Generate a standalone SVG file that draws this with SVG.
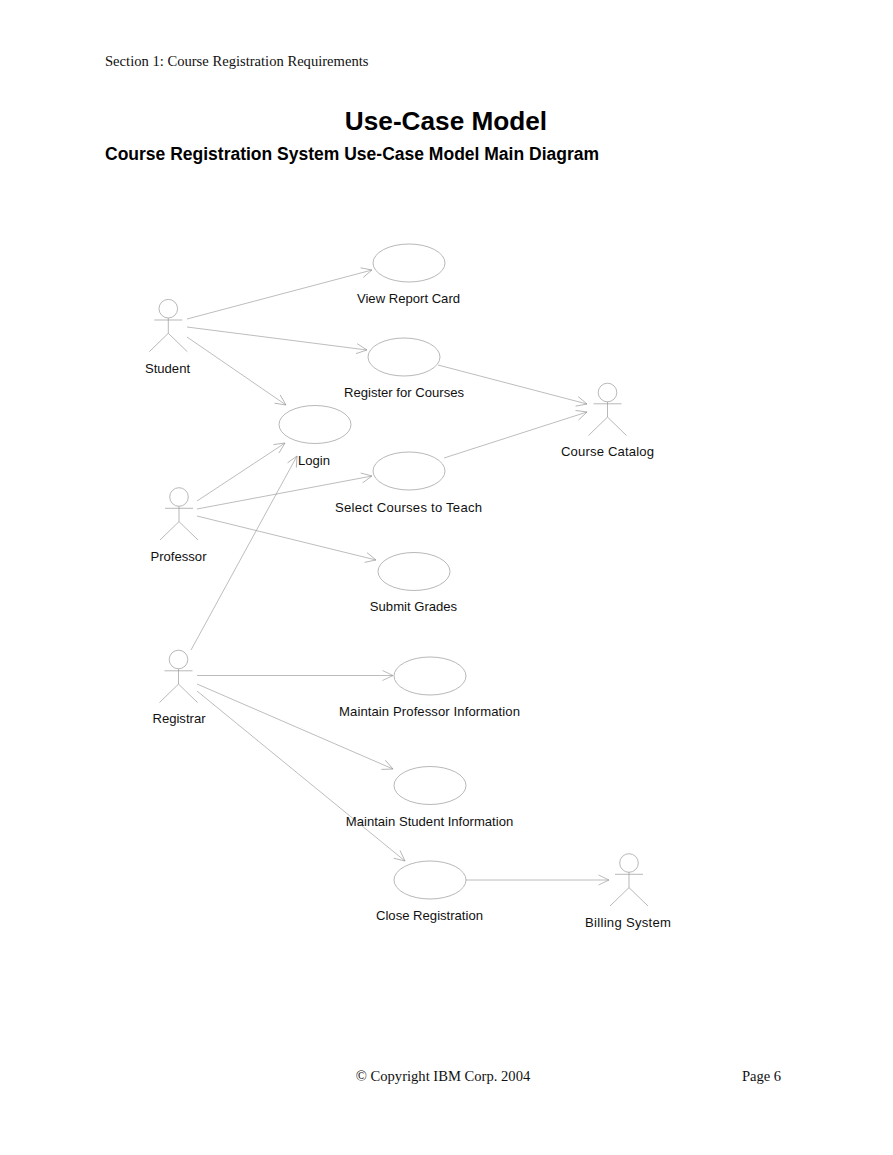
<svg xmlns="http://www.w3.org/2000/svg" width="893" height="1155" viewBox="0 0 893 1155">
<style>
.bg{fill:#fff}
.uc{fill:#fff;stroke:#999;stroke-width:.7}
.a{fill:none;stroke:#999;stroke-width:.7}
.c{fill:none;stroke:#999;stroke-width:.65;marker-end:url(#open)}
.l{font:13.1px "Liberation Sans",Arial,sans-serif;fill:#111;text-anchor:middle}
.s{font:14.6px "Liberation Serif","Times New Roman",serif;fill:#111}
</style>
<defs>
<marker id="open" markerUnits="userSpaceOnUse" markerWidth="20" markerHeight="20" refX="15" refY="10" orient="auto">
<path d="M4.500 5L15 10L4.500 15" fill="none" stroke="#999" stroke-width=".65"/>
</marker>
<g id="actor">
<circle class="a" cx="0" cy="0" r="9.3"/>
<path class="a" d="M-14 11.3H14M0 9.3V24.6M-19 43L0 24.6L19 43"/>
</g>
</defs>
<rect class="bg" width="893" height="1155"/>
<text class="s" x="105" y="66">Section 1: Course Registration Requirements</text>
<text x="446" y="129.500" text-anchor="middle" font-family="Liberation Sans,Arial,sans-serif" font-size="26.2" font-weight="bold" fill="#000">Use-Case Model</text>
<text x="105" y="160" font-family="Liberation Sans,Arial,sans-serif" font-size="17.5" font-weight="bold" fill="#000">Course Registration System Use-Case Model Main Diagram</text>
<g id="connectors">
<path class="c" d="M187 319L372 270"/>
<path class="c" d="M187 327L367 350"/>
<path class="c" d="M187 337L286 405"/>
<path class="c" d="M197 501L285 443"/>
<path class="c" d="M197 509L372 476"/>
<path class="c" d="M197 516L376 560"/>
<path class="c" d="M191 650L297 456"/>
<path class="c" d="M197 675.500H393"/>
<path class="c" d="M197 684L393 769"/>
<path class="c" d="M197 691L405 861"/>
<path class="c" d="M438 365L587 404"/>
<path class="c" d="M444 458L587 412"/>
<path class="c" d="M466 880H609"/>
</g>
<g id="student"><use href="#actor" x="168.300" y="308.700"/><text class="l" x="167.500" y="373">Student</text></g>
<g id="professor"><use href="#actor" x="179" y="497"/><text class="l" x="178.500" y="561">Professor</text></g>
<g id="registrar"><use href="#actor" x="178.500" y="659.500"/><text class="l" x="179" y="723">Registrar</text></g>
<g id="course-catalog"><use href="#actor" x="607.500" y="392.500"/><text class="l" x="607.500" y="456" textLength="93">Course Catalog</text></g>
<g id="billing-system"><use href="#actor" x="629" y="863"/><text class="l" x="628" y="927" textLength="86">Billing System</text></g>
<g id="view-report-card"><ellipse class="uc" cx="409" cy="263" rx="36" ry="19"/><text class="l" x="408.500" y="303">View Report Card</text></g>
<g id="register-for-courses"><ellipse class="uc" cx="404" cy="357" rx="36" ry="19"/><text class="l" x="404" y="397">Register for Courses</text></g>
<g id="login"><ellipse class="uc" cx="315" cy="424.500" rx="36" ry="19"/><text class="l" x="314" y="465">Login</text></g>
<g id="select-courses"><ellipse class="uc" cx="409" cy="471" rx="36" ry="19"/><text class="l" x="408.500" y="512" textLength="147">Select Courses to Teach</text></g>
<g id="submit-grades"><ellipse class="uc" cx="414" cy="571.500" rx="36" ry="19"/><text class="l" x="413.500" y="611">Submit Grades</text></g>
<g id="maintain-professor"><ellipse class="uc" cx="430" cy="676" rx="36" ry="19"/><text class="l" x="429.500" y="716" textLength="181">Maintain Professor Information</text></g>
<g id="maintain-student"><ellipse class="uc" cx="430" cy="785.500" rx="36" ry="19"/><text class="l" x="429.500" y="826">Maintain Student Information</text></g>
<g id="close-registration"><ellipse class="uc" cx="430" cy="880" rx="36" ry="19"/><text class="l" x="429.500" y="920">Close Registration</text></g>
<text class="s" x="443" y="1081" text-anchor="middle">© Copyright IBM Corp. 2004</text>
<text class="s" x="742" y="1081" textLength="39">Page 6</text>
</svg>
